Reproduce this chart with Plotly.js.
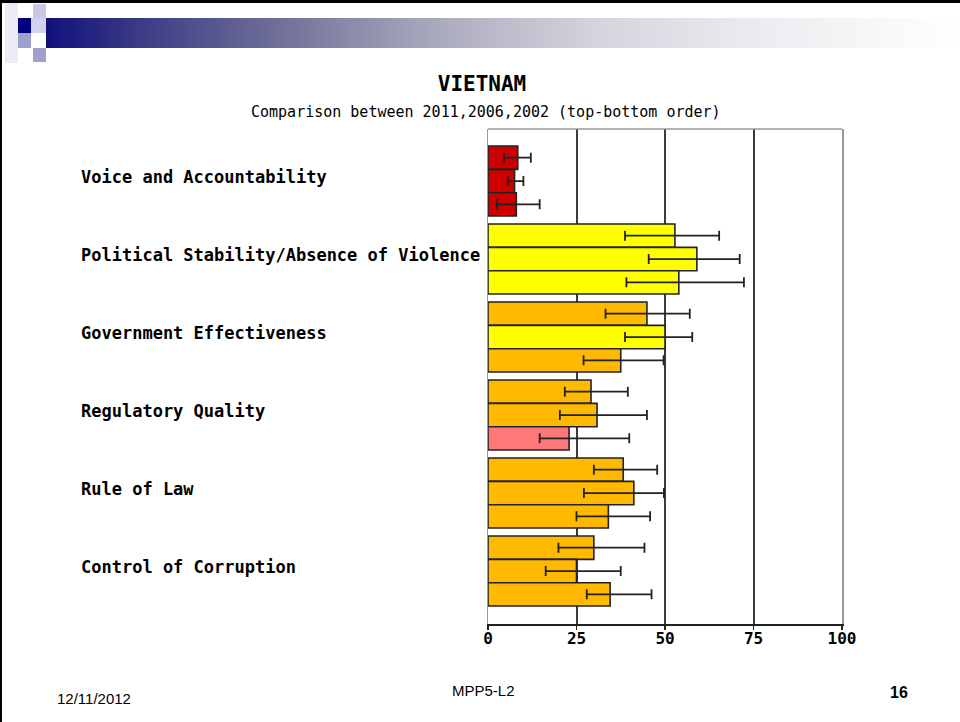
<!DOCTYPE html>
<html>
<head>
<meta charset="utf-8">
<script src="https://cdn.plot.ly/plotly-3.0.1.min.js"></script>
<style>
  html, body { margin: 0; padding: 0; background: #ffffff; }
  #slide { position: relative; width: 960px; height: 722px; overflow: hidden; background: #ffffff; }
  .deco { position: absolute; }
  #chart { position: absolute; left: 0; top: 0; width: 960px; height: 722px; }
</style>
</head>
<body>
<div id="slide">
  <div class="deco" style="left:0;top:0;width:960px;height:3px;background:#000;"></div>
  <div class="deco" style="left:0;top:0;width:2px;height:722px;background:#000;"></div>
  <div class="deco" style="left:46px;top:18px;width:914px;height:30px;background:linear-gradient(to right,#10107c 0%,#3a3a86 10%,#6e6e98 25%,#a8a8bc 42%,#d4d4de 60%,#eeeef2 80%,#ffffff 100%);"></div>
  <div class="deco" style="left:5px;top:3px;width:13px;height:60px;background:#ececf6;"></div>
  <div class="deco" style="left:33px;top:4px;width:13px;height:14px;background:#c8c8e6;"></div>
  <div class="deco" style="left:18px;top:18px;width:13px;height:15px;background:#000080;"></div>
  <div class="deco" style="left:31px;top:18px;width:15px;height:15px;background:#d2d2ec;"></div>
  <div class="deco" style="left:18px;top:33px;width:13px;height:15px;background:#a0a0d0;"></div>
  <div class="deco" style="left:33px;top:48px;width:13px;height:14px;background:#a0a0d0;"></div>
  <div id="chart"></div>
</div>
<script>
// ---- data ----
const categories = [
  "Voice and Accountability",
  "Political Stability/Absence of Violence",
  "Government Effectiveness",
  "Regulatory Quality",
  "Rule of Law",
  "Control of Corruption"
];
const years = ["2011", "2006", "2002"];

const v2011  = [8.4, 52.8, 44.9, 29.1, 38.2, 29.9];
const lo2011 = [4.6, 38.7, 33.2, 21.7, 29.9, 19.9];
const hi2011 = [12.1, 65.3, 57.0, 39.5, 47.8, 44.2];

const v2006  = [7.5, 59.0, 50.0, 30.8, 41.2, 25.0];
const lo2006 = [5.6, 45.4, 38.7, 20.3, 27.1, 16.3];
const hi2006 = [10.0, 71.1, 57.7, 44.9, 49.7, 37.5];

const v2002  = [8.0, 53.9, 37.5, 22.9, 34.0, 34.5];
const lo2002 = [2.5, 39.1, 27.0, 14.6, 25.0, 27.9];
const hi2002 = [14.6, 72.3, 49.6, 39.9, 45.8, 46.2];

const xTicks = [0, 25, 50, 75, 100];
const chartTitle = "VIETNAM";
const chartSubtitle = "Comparison between 2011,2006,2002 (top-bottom order)";
const footerDate = "12/11/2012";
const footerCenter = "MPP5-L2";
const footerPage = "16";

// ---- styling helpers ----
function rankColor(v) {
  if (v < 10) return "#cc0000";
  if (v < 25) return "#ff7878";
  if (v < 50) return "#ffb900";
  if (v < 75) return "#ffff00";
  return "#66cc66";
}

const series = [
  { name: years[0], v: v2011, lo: lo2011, hi: hi2011 },
  { name: years[1], v: v2006, lo: lo2006, hi: hi2006 },
  { name: years[2], v: v2002, lo: lo2002, hi: hi2002 }
];

const mono = "DejaVu Sans Mono, Liberation Mono, monospace";

const traces = series.map(s => ({
  type: "bar",
  orientation: "h",
  name: s.name,
  y: categories,
  x: s.v,
  marker: { color: s.v.map(rankColor), line: { color: "#222222", width: 1.6 } },
  error_x: {
    type: "data",
    symmetric: false,
    array: s.v.map((v, i) => s.hi[i] - v),
    arrayminus: s.v.map((v, i) => v - s.lo[i]),
    color: "#222222",
    thickness: 1.8,
    width: 5
  },
  hoverinfo: "x+y+name"
}));

const plotTop = 129, plotBottom = 624, plotLeft = 488, plotRight = 842;
const W = 960, H = 722;

const annotations = categories.map(c => ({
  xref: "paper", yref: "y",
  x: (79 - plotLeft) / (plotRight - plotLeft),
  y: c,
  xanchor: "left", yanchor: "middle",
  yshift: 4,
  text: c,
  showarrow: false,
  font: { family: mono, size: 17, color: "#000", weight: "bold" }
}));

annotations.push({
  xref: "paper", yref: "paper",
  x: (486 - plotLeft) / (plotRight - plotLeft),
  y: 1 + (plotTop - 112) / (plotBottom - plotTop),
  xanchor: "center", yanchor: "middle",
  text: chartSubtitle, showarrow: false,
  font: { family: mono, size: 15, color: "#000" }
});

function footer(text, xpx, ypx, size, bold, anchor) {
  return {
    xref: "paper", yref: "paper",
    x: (xpx - plotLeft) / (plotRight - plotLeft),
    y: (plotBottom - ypx) / (plotBottom - plotTop),
    xanchor: anchor, yanchor: "middle",
    text: text, showarrow: false,
    font: { family: "Liberation Sans, Arial, sans-serif", size: size, color: "#000", weight: bold ? "bold" : "normal" }
  };
}
annotations.push(footer(footerDate, 55, 698, 15, false, "left"));
annotations.push(footer(footerCenter, 483, 690, 15, false, "center"));
annotations.push(footer(footerPage, 899, 692, 16, true, "center"));

const layout = {
  width: W, height: H,
  margin: { l: plotLeft, r: W - plotRight, t: plotTop, b: H - plotBottom, pad: 0 },
  paper_bgcolor: "rgba(0,0,0,0)",
  plot_bgcolor: "rgba(0,0,0,0)",
  showlegend: false,
  barmode: "group",
  bargap: 0.103,
  bargroupgap: 0,
  title: {
    text: chartTitle,
    x: 482 / W, xanchor: "center", xref: "container",
    y: 1 - 84 / H, yanchor: "middle", yref: "container",
    font: { family: mono, size: 21, color: "#000", weight: "bold" }
  },
  xaxis: {
    range: [0, 100],
    tickvals: xTicks,
    ticktext: xTicks.map(String),
    ticks: "outside", ticklen: 4, tickwidth: 1.5, tickcolor: "#222",
    ticklabelstandoff: -5,
    tickfont: { family: mono, size: 16, color: "#000", weight: "bold" },
    showline: true, linecolor: "#222", linewidth: 1.5,
    showgrid: true, gridcolor: "#3a3a3a", gridwidth: 2,
    zeroline: false, fixedrange: true
  },
  yaxis: {
    type: "category",
    categoryorder: "array", categoryarray: categories,
    range: [5.679, -0.667],
    showticklabels: false, ticks: "",
    showline: true, mirror: true, linecolor: "#9a9a9a", linewidth: 1.5,
    showgrid: false, zeroline: false, fixedrange: true
  },
  shapes: [{
    type: "line", xref: "paper", yref: "paper",
    x0: 0, x1: 1, y0: 1, y1: 1,
    line: { color: "#9a9a9a", width: 1.5 }
  }],
  annotations: annotations
};

Plotly.newPlot("chart", traces, layout, { displayModeBar: false, staticPlot: true });
</script>
</body>
</html>
